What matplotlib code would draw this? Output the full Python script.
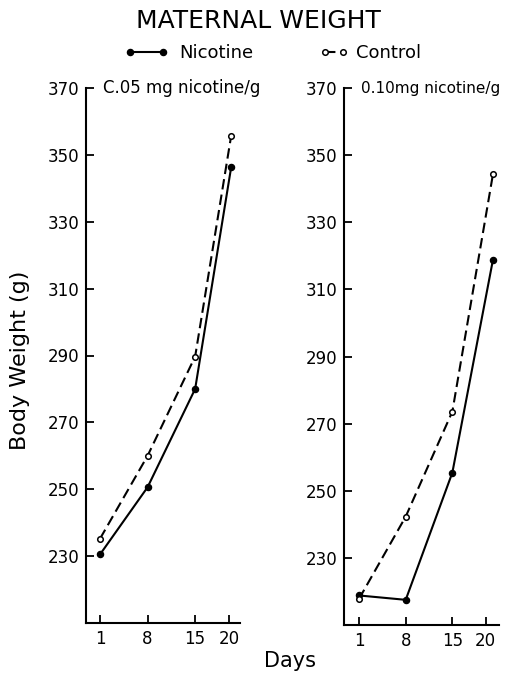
#!/usr/bin/env python3
"""Maternal weight during gestation, nicotine vs control (two dose panels)."""

import matplotlib
matplotlib.use("Agg")
import matplotlib.pyplot as plt
from matplotlib.lines import Line2D

# data
days_low = [1, 8, 15, 20.3]
nicotine_low = [230.5, 250.6, 280.0, 346.3]
control_low = [235.2, 260.0, 289.7, 355.7]

days_high = [1, 8, 15, 21.1]
nicotine_high = [218.8, 217.5, 255.4, 318.9]
control_high = [217.8, 242.3, 273.6, 344.4]

day_ticks = [1, 8, 15, 20]
weight_ticks = [230, 250, 270, 290, 310, 330, 350, 370]
panel_titles = ["C.05 mg nicotine/g", "0.10mg nicotine/g"]

plt.rcParams["font.family"] = ["DejaVu Sans"]

W, H = 515, 676
fig = plt.figure(figsize=(W / 100, H / 100), dpi=100)


def px_axes(x0, x1, ytop, ybot):
    return fig.add_axes([x0 / W, 1 - ybot / H, (x1 - x0) / W, (ybot - ytop) / H])


LW = 1.5
DASH = (5, 2.5)


def draw_panel(ax, days, nic, ctl, xlim, title, title_size):
    ax.plot(days, nic, color="black", lw=LW, marker="o", ms=4.4,
            mfc="black", mec="black", zorder=3)
    ax.plot(days, ctl, color="black", lw=LW, dashes=DASH, marker="o", ms=4,
            mfc="white", mec="black", mew=1.1, zorder=4)
    ax.set_xlim(*xlim)
    ax.set_ylim(210, 370)
    ax.set_xticks(day_ticks)
    ax.set_yticks(weight_ticks)
    for side in ("top", "right"):
        ax.spines[side].set_visible(False)
    for side in ("left", "bottom"):
        ax.spines[side].set_linewidth(1.5)
    ax.tick_params(axis="both", direction="in", length=6, width=1.3,
                   labelsize=12, pad=5)
    ax.text(0.11, 1.0, title, transform=ax.transAxes, ha="left", va="center",
            fontsize=title_size)


ax1 = px_axes(86, 240, 88, 623)
draw_panel(ax1, days_low, nicotine_low, control_low, (-1.06, 21.6),
           panel_titles[0], 12)

ax2 = px_axes(344, 499, 88, 625)
draw_panel(ax2, days_high, nicotine_high, control_high, (-1.26, 22.0),
           panel_titles[1], 11)

fig.text(258 / W, 1 - 21 / H, "MATERNAL WEIGHT", ha="center", va="center",
         fontsize=18)
fig.text(20 / W, 1 - 360 / H, "Body Weight (g)", rotation=90, ha="center",
         va="center", fontsize=16)
fig.text(290 / W, 1 - 661 / H, "Days", ha="center", va="center", fontsize=15)

nic_handle = Line2D([], [], color="black", lw=LW, marker="o", ms=4.4,
                    mfc="black", mec="black")
ctl_handle = Line2D([], [], color="black", lw=LW, dashes=DASH, marker="o",
                    ms=4, mfc="white", mec="black", mew=1.1)
leg_kw = dict(loc="center left", frameon=False, numpoints=2, fontsize=13,
              borderpad=0, borderaxespad=0)
fig.legend([nic_handle], ["Nicotine"], bbox_to_anchor=(125 / W, 1 - 53 / H),
           handlelength=2.4, handletextpad=0.6, **leg_kw)
fig.legend([ctl_handle], ["Control"], bbox_to_anchor=(320 / W, 1 - 53 / H),
           handlelength=1.6, handletextpad=0.4, **leg_kw)

fig.savefig("out.png", dpi=100)
